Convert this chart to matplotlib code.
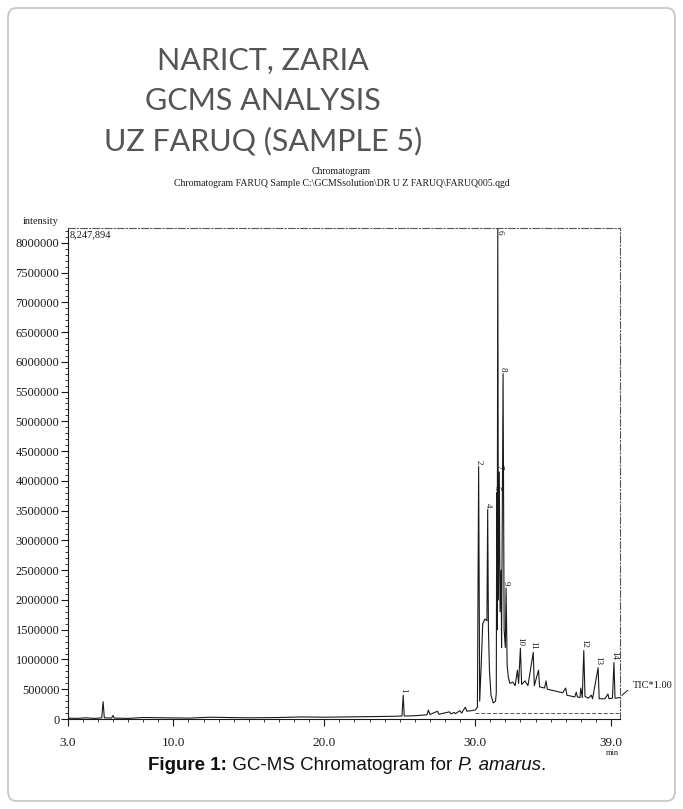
import matplotlib
matplotlib.use("Agg")
import matplotlib.pyplot as plt
from matplotlib.patches import FancyBboxPatch
from matplotlib.ticker import FixedLocator, MultipleLocator

# TIC trace: retention time (min) / intensity
trace_t = [3.0, 3.6, 4.2, 4.8, 5.25, 5.34, 5.42, 5.9, 6.0, 6.08, 7.0, 8.0, 9.5,
           11.0, 12.5, 13.5, 15.0, 17.0, 18.5, 20.0, 21.5, 23.0, 24.5, 25.15,
           25.23, 25.3, 26.0, 26.8, 26.9, 27.0, 27.5, 27.6, 28.3, 28.4, 28.6,
           28.7, 28.98, 29.1, 29.35, 29.45, 30.0, 30.15, 30.23, 30.3, 30.4,
           30.5, 30.65, 30.78, 30.83, 30.88, 30.95, 31.05, 31.2, 31.35, 31.4,
           31.43, 31.46, 31.5, 31.54, 31.6, 31.65, 31.72, 31.75, 31.85, 31.92,
           32.0, 32.05, 32.12, 32.2, 32.3, 32.5, 32.65, 32.8, 32.88, 33.0,
           33.08, 33.3, 33.5, 33.85, 33.92, 34.2, 34.27, 34.6, 34.7, 34.78,
           35.3, 35.8, 36.0, 36.08, 36.6, 36.7, 36.78, 36.95, 37.0, 37.1, 37.2,
           37.28, 37.5, 37.7, 37.78, 38.15, 38.22, 38.6, 38.8, 38.87, 39.1,
           39.2, 39.27, 39.6]
trace_i = [15000, 10000, 20000, 10000, 20000, 290000, 20000, 15000, 60000,
           15000, 10000, 25000, 20000, 15000, 30000, 25000, 20000, 25000, 35000,
           30000, 35000, 40000, 45000, 50000, 400000, 50000, 55000, 70000,
           150000, 75000, 130000, 80000, 120000, 85000, 110000, 90000, 140000,
           100000, 200000, 130000, 150000, 200000, 4240000, 300000, 900000,
           1600000, 1680000, 1650000, 3520000, 1500000, 800000, 400000, 270000,
           300000, 440000, 3800000, 1500000, 8247894, 2000000, 4150000,
           1800000, 2500000, 1200000, 5800000, 1500000, 1200000, 2200000,
           900000, 700000, 600000, 620000, 560000, 820000, 600000, 1190000,
           580000, 640000, 560000, 1120000, 560000, 820000, 540000, 520000,
           640000, 500000, 470000, 440000, 520000, 400000, 370000, 450000,
           370000, 360000, 520000, 360000, 1150000, 380000, 350000, 400000,
           340000, 860000, 340000, 340000, 420000, 340000, 350000, 950000,
           350000, 360000]

# numbered peaks
peak_no = ["1", "2", "4", "5", "6", "7", "8", "9", "10", "11", "12", "13", "14"]
peak_t = [25.23, 30.23, 30.83, 31.43, 31.50, 31.60, 31.85, 32.05, 33.00,
          33.85, 37.20, 38.15, 39.20]
peak_i = [400000, 4240000, 3520000, 3800000, 8247894, 4150000, 5800000,
          2200000, 1190000, 1120000, 1150000, 860000, 950000]

y_ticks = list(range(0, 8000001, 500000))
x_ticks = [3.0, 10.0, 20.0, 30.0, 39.0]
max_int = 8247894
t_end = 39.6

serif = "Liberation Serif"
ink = "#1a1a1a"

fig = plt.figure(figsize=(6.83, 8.09), dpi=100)
W, H = 683, 809


def fx(px):
    return px / W


def fy(py):
    return 1 - py / H


# rounded frame around the whole figure
fig.patches.append(FancyBboxPatch((fx(8), fy(801)), fx(667), 793 / H,
                                  boxstyle="round,pad=0,rounding_size=0.012",
                                  transform=fig.transFigure, fill=False,
                                  ec="#c4c4c4", lw=1.2))

for txt, py in [("NARICT, ZARIA", 61), ("GCMS ANALYSIS", 101),
                ("UZ FARUQ (SAMPLE 5)", 141)]:
    fig.text(fx(263), fy(py), txt, ha="center", va="center", fontsize=22,
             family="Lato", color="#555555")

fig.text(fx(341), fy(172), "Chromatogram", ha="center", va="center",
         fontsize=7, family=serif, color=ink)
fig.text(fx(342), fy(184),
         r"Chromatogram FARUQ Sample C:\GCMSsolution\DR U Z FARUQ\FARUQ005.qgd",
         ha="center", va="center", fontsize=7, family=serif, color=ink)

ax = fig.add_axes([fx(67.8), fy(719), fx(620 - 67.8), (719 - 228) / H])
ax.plot(trace_t, trace_i, color=ink, lw=0.8)
ax.set_xlim(3.0, t_end)
ax.set_ylim(0, max_int)

for s in ["top", "right"]:
    ax.spines[s].set_linestyle((0, (6, 2, 1, 2)))
    ax.spines[s].set_color("#555555")
    ax.spines[s].set_linewidth(0.8)
ax.spines["left"].set_color(ink)
ax.spines["bottom"].set_color(ink)
ax.axhline(100000, xmin=(30.0 - 3.0) / (t_end - 3.0), xmax=1, color="#555555",
           lw=0.7, ls=(0, (4, 2)))

ax.yaxis.set_major_locator(FixedLocator(y_ticks))
ax.yaxis.set_minor_locator(MultipleLocator(100000))
ax.set_yticklabels([str(v) for v in y_ticks], family=serif, fontsize=9,
                   color=ink)
ax.xaxis.set_major_locator(FixedLocator(x_ticks))
ax.xaxis.set_minor_locator(MultipleLocator(1.0))
ax.set_xticklabels([f"{v:.1f}" for v in x_ticks], family=serif, fontsize=9.5,
                   color=ink)
ax.tick_params(axis="both", which="major", length=5, width=0.8, color=ink)
ax.tick_params(axis="both", which="minor", length=2.5, width=0.6, color=ink)
ax.tick_params(axis="y", pad=1)
ax.tick_params(axis="x", pad=8)

for lab, t, v in zip(peak_no, peak_t, peak_i):
    if v >= max_int:
        ax.text(t + 0.1, v * 0.995, lab, rotation=-90, ha="center", va="top",
                fontsize=6.5, family=serif, color=ink)
    else:
        ax.text(t, v + 40000, lab, rotation=-90, ha="center", va="bottom",
                fontsize=6.5, family=serif, color=ink)

ax.text(3.15, max_int * 0.995, "8,247,894", ha="left", va="top",
        fontsize=7.5, family=serif, color=ink)
fig.text(fx(41), fy(222), "intensity", ha="center", va="center", fontsize=7.5,
         family=serif, color=ink)
fig.text(fx(612), fy(753), "min", ha="center", va="center", fontsize=6,
         family=serif, color=ink)

# TIC tag to the right of the frame
ax.annotate("TIC*1.00", xy=(t_end, trace_i[-1]), xycoords="data",
            xytext=(fx(633), fy(686)), textcoords="figure fraction",
            ha="left", va="center", fontsize=7.5, family=serif, color=ink,
            arrowprops=dict(arrowstyle="-", color=ink, lw=0.7,
                            connectionstyle="arc3,rad=0.3"),
            annotation_clip=False)

# caption with mixed weights
fig.canvas.draw()
renderer = fig.canvas.get_renderer()
parts = [("Figure 1:", "bold", "normal"), (" GC-MS Chromatogram for ", "normal", "normal"),
         ("P. amarus", "normal", "italic"), (".", "normal", "normal")]
texts = []
for s, w, st in parts:
    texts.append(fig.text(0, fy(765), s, fontsize=13.5, family="Liberation Sans",
                          weight=w, style=st, va="center", ha="left",
                          color="#111111"))
widths = [t.get_window_extent(renderer).width for t in texts]
x0 = fx(347) * W - sum(widths) / 2
for t, w in zip(texts, widths):
    t.set_x(x0 / W)
    x0 += w

fig.savefig("out.png", dpi=100)
